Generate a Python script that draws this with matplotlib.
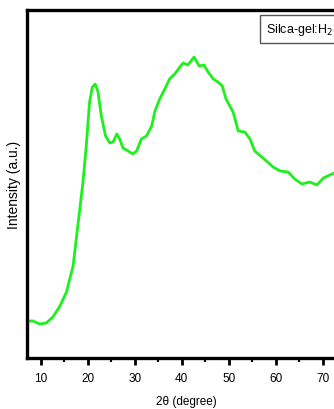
import numpy as np
import matplotlib
matplotlib.use("Agg")
import matplotlib.pyplot as plt
from matplotlib.ticker import MultipleLocator

# XRD pattern (2theta in degree, intensity a.u.)
two_theta = [7.1, 8.4, 9.8, 11.2, 12.6, 14.0, 15.5, 16.9, 17.9, 19.0, 19.7,
             20.4, 21.0, 21.6, 22.2, 22.9, 23.8, 24.7, 25.4, 26.2, 26.8, 27.5,
             28.6, 29.6, 30.4, 31.4, 32.5, 33.6, 34.3, 35.3, 36.4, 37.4, 38.5,
             39.6, 40.3, 41.3, 42.6, 43.7, 44.7, 45.6, 46.7, 47.7, 48.6, 49.4,
             50.9, 52.0, 53.4, 54.5, 55.5, 57.0, 58.0, 59.4, 60.9, 62.6, 64.0,
             65.5, 67.2, 68.7, 70.1, 71.9, 73.0]
intensity = [37, 37, 34, 35, 41, 51, 66, 92, 132, 176, 212,
             256, 271, 274, 266, 242, 222, 215, 216, 224, 219, 210,
             207, 204, 207, 219, 222, 232, 247, 259, 269, 279, 284,
             291, 295, 293, 301, 292, 293, 286, 279, 276, 272, 259,
             246, 227, 226, 219, 207, 201, 197, 191, 187, 186, 179,
             174, 176, 173, 180, 184, 186]

x_ticks = [10, 20, 30, 40, 50, 60, 70]
legend_text = "Silca-gel:H$_2$SO$_4$"

W, H = 334, 410
fig = plt.figure(figsize=(W / 100, H / 100), dpi=100)

# the axes run a little past the right edge (the reference is cropped there)
left_px, top_px, bottom_px = 26.5, 11, 359
x0, x1 = 7.0, 75.0
px_per_deg = 4.7
right_px = 41 + (x1 - 10) * px_per_deg
ax_w = right_px - left_px
ax = fig.add_axes([left_px / W, 1 - bottom_px / H,
                   ax_w / W, (bottom_px - top_px) / H])

ax.plot(two_theta, intensity, color="#1ef01e", lw=2.0)

ax.set_xlim(x0, x1)
ax.set_ylim(0, 348)

sans = ["Liberation Sans", "DejaVu Sans"]

ax.set_xticks(x_ticks)
ax.xaxis.set_minor_locator(MultipleLocator(5))
ax.tick_params(axis="x", which="major", direction="out", length=5, width=2, pad=5)
ax.tick_params(axis="x", which="minor", direction="out", length=3, width=1.5)
ax.set_yticks([])
for lbl in ax.get_xticklabels():
    lbl.set_family(sans)
    lbl.set_fontsize(8.5)

for s in ax.spines.values():
    s.set_linewidth(2.4)

ax.set_xlabel("2\u03b8 (degree)", family=sans, fontsize=8.5, labelpad=8)
ax.set_ylabel("Intensity (a.u.)", family=sans, fontsize=10)
ax.yaxis.set_label_coords(-5.5 / ax_w, 0.5)

fig.text(266 / W, 1 - 30 / H, legend_text, family=sans, fontsize=9,
         va="center", ha="left",
         bbox=dict(boxstyle="square,pad=0.45", fc="white", ec="#555555", lw=1))

fig.savefig("out.png", dpi=100)
